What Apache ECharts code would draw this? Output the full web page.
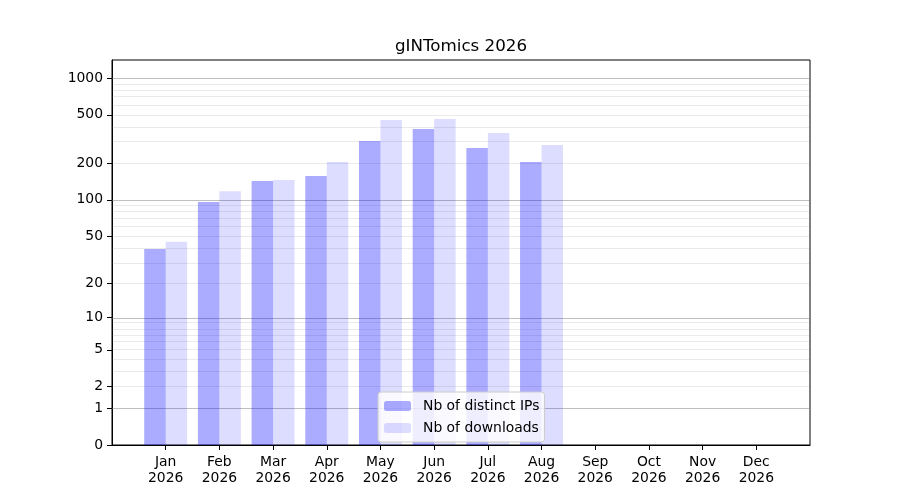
<!DOCTYPE html>
<html>
<head>
<meta charset="utf-8">
<script src="https://cdn.jsdelivr.net/npm/echarts@6/dist/echarts.min.js"></script>
<style>html,body{margin:0;padding:0;background:#fff}#c{width:900px;height:500px}</style>
</head>
<body>
<div id="c"></div>
<script>
// ---- data ----
const months = ['Jan','Feb','Mar','Apr','May','Jun','Jul','Aug','Sep','Oct','Nov','Dec'];
const year = '2026';
const distinctIPs = [39, 96, 143, 157, 305, 383, 267, 205, null, null, null, null];
const downloads   = [45, 118, 146, 205, 453, 462, 355, 283, null, null, null, null];
const yTicks = [0, 1, 2, 5, 10, 20, 50, 100, 200, 500, 1000];
const majorGrid = [1, 10, 100, 1000];
const minorGrid = [2,3,4,5,6,7,8,9,20,30,40,50,60,70,80,90,200,300,400,500,600,700,800,900];
const yMaxRaw = 1405;

// axis transform: log10(v + 1)
const tf = v => (v == null ? null : Math.log10(v + 1));

// category axis padded by one empty slot on each side
const cats = [''].concat(months.map(m => m + '\n' + year)).concat(['']);
const pad = arr => [null].concat(arr.map(tf)).concat([null]);

const font = 'DejaVu Sans';
const chart = echarts.init(document.getElementById('c'), null, {renderer: 'canvas'});

const gridLines = majorGrid.map(v => ({yAxis: tf(v), lineStyle: {color: 'rgba(128,128,128,0.5)', width: 1, type: 'solid'}}))
  .concat(minorGrid.map(v => ({yAxis: tf(v), lineStyle: {color: 'rgba(128,128,128,0.17)', width: 1, type: 'solid'}})));

chart.setOption({
  animation: false,
  title: {
    text: 'gINTomics 2026',
    left: 461, top: 38, textAlign: 'center',
    padding: 0,
    textStyle: {fontFamily: font, fontSize: 16.7, fontWeight: 'normal', color: '#000'}
  },
  grid: {left: 112, top: 60, width: 698, height: 385, show: true, borderColor: '#000', borderWidth: 1, containLabel: false},
  legend: {
    orient: 'vertical',
    left: 378, top: 392,
    padding: [7, 5, 7, 6],
    itemWidth: 27, itemHeight: 10, itemGap: 8,
    backgroundColor: 'rgba(255,255,255,0.8)',
    borderColor: '#cccccc', borderWidth: 1, borderRadius: 3,
    textStyle: {fontFamily: font, fontSize: 13.9, color: '#000', lineHeight: 13, padding: [0, 0, 0, 7]},
    itemStyle: {borderWidth: 0},
    data: ['Nb of distinct IPs', 'Nb of downloads']
  },
  xAxis: {
    type: 'category',
    data: cats,
    boundaryGap: false,
    axisLine: {show: true, lineStyle: {color: '#000', width: 1}},
    axisTick: {show: true, length: 5, inside: false, lineStyle: {color: '#000'},
      interval: (i, v) => v !== ''},
    axisLabel: {interval: 0, margin: 9, fontFamily: font, fontSize: 13.9, lineHeight: 16, color: '#000', align: 'center'},
    splitLine: {show: false}
  },
  yAxis: {
    type: 'value',
    min: 0, max: tf(yMaxRaw),
    axisLine: {show: true, lineStyle: {color: '#000', width: 1}},
    axisTick: {show: true, length: 5, lineStyle: {color: '#000'}, customValues: yTicks.map(tf)},
    axisLabel: {
      margin: 9, fontFamily: font, fontSize: 13.9, color: '#000',
      customValues: yTicks.map(tf),
      formatter: v => {
        let best = yTicks[0], d = Infinity;
        yTicks.forEach(t => { const dd = Math.abs(tf(t) - v); if (dd < d) { d = dd; best = t; } });
        return String(best);
      }
    },
    splitLine: {show: false}
  },
  series: [
    {
      name: 'Nb of distinct IPs', type: 'bar',
      data: pad(distinctIPs),
      barWidth: '40%', barGap: '0%',
      itemStyle: {color: 'rgba(0,0,255,0.33)'},
      markLine: {silent: true, symbol: 'none', label: {show: false}, data: gridLines, z: 1}
    },
    {
      name: 'Nb of downloads', type: 'bar',
      data: pad(downloads),
      barWidth: '40%', barGap: '0%',
      itemStyle: {color: 'rgba(0,0,255,0.135)'}
    }
  ]
});
</script>
</body>
</html>
